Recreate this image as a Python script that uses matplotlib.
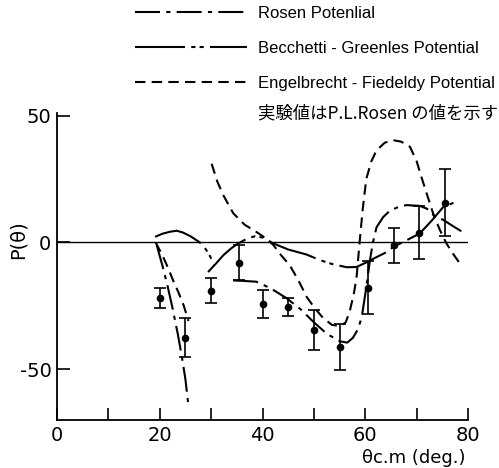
import numpy as np
import matplotlib as mpl
mpl.use("Agg")
import matplotlib.pyplot as plt

plt.rcParams["axes.unicode_minus"] = False

# experimental values (P.L. Rosen)
theta_exp = [20, 25, 30, 35.5, 40, 45, 50, 55, 60.5, 65.5, 70.5, 75.5]
p_exp = [-22, -37.5, -19, -8, -24.3, -25.6, -34.5, -41.2, -17.8, -1.2, 3.8, 15.7]
p_err = [4, 7.7, 5, 7, 5.5, 3.5, 7.9, 8.9, 10.6, 7, 10.5, 13.2]

# Rosen potential (two pieces)
rosen_t1 = [19.4, 20.5, 21.5, 22.5, 23.5, 24.3, 25.0, 25.5]
rosen_p1 = [-1, -9, -17, -26, -36, -45, -54, -63]
rosen_t2 = [34.3, 36.5, 38.8, 41.5, 44.7, 47.5, 49.9, 52.5, 55.1, 56.5, 57.6, 58.5,
            59.3, 60.2, 60.9, 61.5, 62.2, 63.5, 64.8, 66.5, 68.0, 70.6, 72.0,
            73.9, 75.1, 77.0, 78.7]
rosen_p2 = [-15.0, -15.2, -15.5, -18, -22, -26.5, -31.3, -36, -39, -39.5, -37.6, -34.5,
            -29.7, -17.8, -7.2, 0, 6, 10, 12.5, 14, 14.7, 14.4, 13.3,
            9.5, 9.0, 6.5, 4.4]

# Becchetti-Greenlees potential (two pieces)
bg_t1 = [19.1, 20.5, 22.0, 23.3, 24.5, 26.0, 27.8, 29.0, 29.8, 30.6]
bg_p1 = [2.2, 3.4, 4.2, 4.6, 3.9, 2.4, 0, -2.8, -5.5, -9]
bg_t2 = [29.4, 31.0, 32.4, 34.0, 35.2, 37.0, 38.5, 40.1, 42.1, 45.0, 48.6, 51.2,
         53.5, 56.4, 58.3, 60.2, 62.0, 64.1, 65.4, 68.0, 70.6, 72.9, 75.2, 77.8]
bg_p2 = [-11.7, -8.2, -5.0, -2.2, -0.5, 1.5, 2.4, 1.9, -0.4, -2.8, -4.8, -7.0,
         -8.5, -9.8, -9.7, -7.9, -6.0, -3.9, -1.9, 0.8, 3.5, 8.5, 14.0, 16.1]

# Engelbrecht-Fiedeldy potential (two pieces)
ef_t1 = [19.2, 20.5, 21.6, 22.6, 23.6, 24.6, 25.6]
ef_p1 = [0, -5, -10, -15, -19.5, -24.5, -31]
ef_t2 = [30.1, 31.2, 32.4, 34.3, 36.5, 38.9, 40.5, 42.1, 43.6, 45.3, 47.0, 48.6,
         50.2, 51.8, 53.5, 55.1, 56.2, 57.0, 57.8, 58.3, 58.9, 59.5, 60.2, 61.2,
         62.2, 63.8, 65.4, 67.0, 68.7, 70.0, 70.9, 72.0, 73.2, 74.5, 75.8, 77.1, 78.4]
ef_p2 = [31, 24, 18.5, 11.5, 7, 4, 1.8, -1, -5, -9, -15, -21.5,
         -26, -29.8, -32.5, -33, -31.5, -27, -20, -13.9, 0, 13, 25, 32,
         36.3, 39.3, 40.3, 39.7, 37.7, 32, 26, 19, 11.5, 5, -0.4, -4.5, -8.3]

x_ticks = [0, 10, 20, 30, 40, 50, 60, 70, 80]
x_labels = ["0", "", "20", "", "40", "", "60", "", "80"]
y_ticks = [-50, 0, 50]

ls_rosen = (0, (12, 3, 2, 3))
ls_bg = (0, (24, 3, 2, 2, 2, 3))
ls_ef = (0, (5, 3))

fig = plt.figure(figsize=(4.99, 4.68), dpi=100)
ax = fig.add_axes([57 / 499, 1 - 420 / 468, 411 / 499, 307 / 468])

ax.axhline(0, color="black", lw=1.0)

l_rosen, = ax.plot(rosen_t1, rosen_p1, color="black", lw=1.5, ls=ls_rosen, label="Rosen Potenlial")
ax.plot(rosen_t2, rosen_p2, color="black", lw=1.5, ls=ls_rosen)
l_bg, = ax.plot(bg_t1, bg_p1, color="black", lw=1.5, ls=ls_bg, label="Becchetti - Greenles Potential")
ax.plot(bg_t2, bg_p2, color="black", lw=1.5, ls=ls_bg)
l_ef, = ax.plot(ef_t1, ef_p1, color="black", lw=1.5, ls=ls_ef, label="Engelbrecht - Fiedeldy Potential")
ax.plot(ef_t2, ef_p2, color="black", lw=1.5, ls=ls_ef)

ax.errorbar(theta_exp, p_exp, yerr=p_err, fmt="o", color="black", ms=4.5,
            capsize=4, elinewidth=1.2, capthick=1.2)

ax.set_xlim(0, 80)
ax.set_ylim(-70, 51)
ax.set_xticks(x_ticks)
ax.set_xticklabels(x_labels)
ax.set_yticks(y_ticks)
ax.tick_params(direction="in", length=9, width=1.2, labelsize=14, pad=4)

for s in ["top", "right"]:
    ax.spines[s].set_visible(False)
for s in ["left", "bottom"]:
    ax.spines[s].set_linewidth(1.3)

fig.text(18 / 499, 1 - 240 / 468, "P(θ)", rotation=90, fontsize=14, ha="center", va="center")
fig.text(465 / 499, 1 - 458 / 468, "θc.m (deg.)", fontsize=13, ha="right", va="center")

leg = ax.legend(handles=[l_rosen, l_bg, l_ef], loc="upper left",
                bbox_to_anchor=(135 / 499, 1 - 6 / 468), bbox_transform=fig.transFigure,
                frameon=False, handlelength=6.7, handletextpad=0.66, labelspacing=1.19,
                borderpad=0, borderaxespad=0,
                prop={"family": ["Liberation Sans", "DejaVu Sans"], "size": 12})

fig.text(258 / 499, 1 - 113 / 468, "実験値はP.L.Rosen の値を示す",
         family=["Noto Sans CJK JP", "DejaVu Sans"], fontsize=12.5, ha="left", va="center")

fig.savefig("out.png", dpi=100)
